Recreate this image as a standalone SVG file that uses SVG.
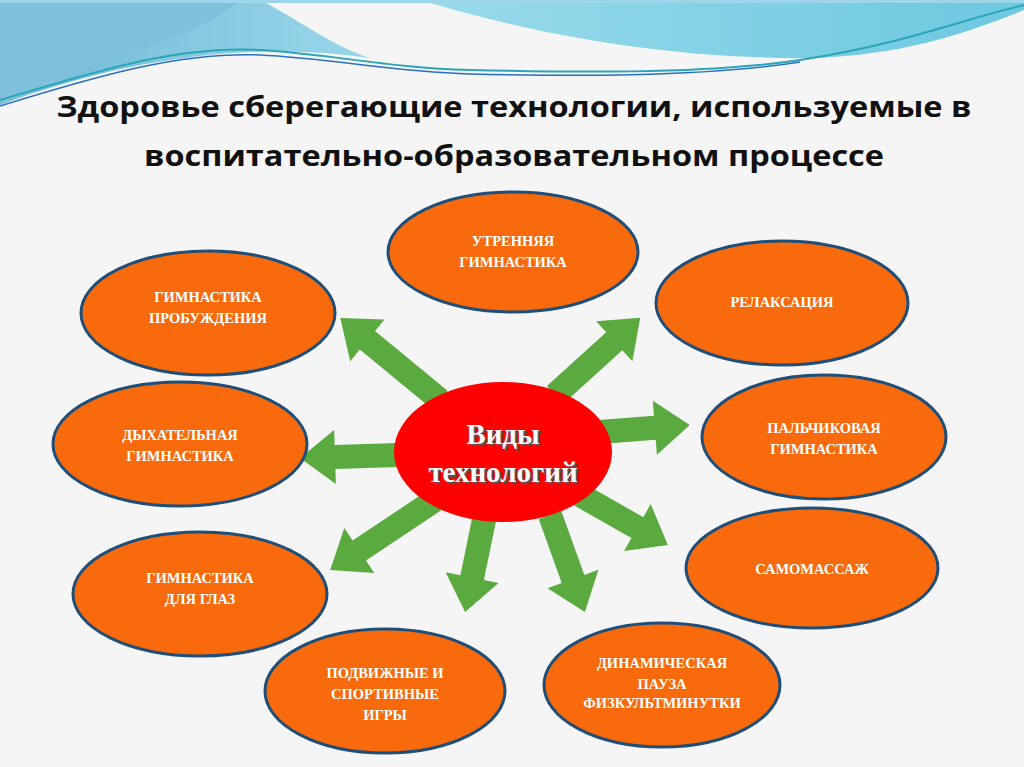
<svg xmlns="http://www.w3.org/2000/svg" width="1024" height="767" viewBox="0 0 1024 767">
<defs>
<style>
.node ellipse{fill:#f86a0c;stroke:#1f4e79;stroke-width:3}
.node text{fill:#fff;font-family:"Liberation Serif",serif;font-weight:bold;font-size:14.5px;text-anchor:middle}
.arr{fill:#5aaa3f}
.title{font-family:"Open Sans","Liberation Sans",sans-serif;font-weight:bold;font-size:29px;fill:#111;text-anchor:middle}
</style>
<linearGradient id="w1" x1="0" y1="0" x2="1" y2="0"><stop offset="0" stop-color="#6fb8d6"/><stop offset="1" stop-color="#9ad7ea"/></linearGradient>
<linearGradient id="w2" x1="0" y1="0" x2="1" y2="0"><stop offset="0" stop-color="#a8e0ee"/><stop offset="1" stop-color="#6cc8e0"/></linearGradient>
</defs>
<rect width="1024" height="767" fill="#f5f5f5"/>
<g id="waves">
<path d="M0,0 H260 C300,20 330,45 370,58 C250,40 120,60 0,105 Z" fill="url(#w1)"/>
<path d="M230,0 H1024 V10 C950,40 880,60 780,58 C640,55 520,30 420,0 Z" fill="url(#w2)"/>
<path d="M0,0 H240 C210,30 120,55 0,105 Z" fill="#7fc0dc"/>
<path d="M0,100 C100,70 180,45 260,50 C330,54 390,68 470,70 C560,72 700,75 800,60 C900,45 960,20 1024,5" fill="none" stroke="#2aa6b8" stroke-width="2"/>
<path d="M0,106 C100,75 180,52 260,55 C330,58 390,72 470,74 C560,76 700,78 800,62" fill="none" stroke="#2a70c0" stroke-width="1.5"/>
<path d="M0,0 H1024 V3 H0 Z" fill="#9dd6e8"/>
</g>
<text class="title" x="514" y="117" textLength="915" lengthAdjust="spacingAndGlyphs">Здоровье сберегающие технологии, используемые в</text>
<text class="title" x="514" y="166" textLength="740" lengthAdjust="spacingAndGlyphs">воспитательно-образовательном процессе</text>
<g id="connectors">
<polygon class="arr" transform="translate(440,400) rotate(219.4)" points="0,-12 94,-12 94,-27 129,0 94,27 94,12 0,12"/>
<polygon class="arr" transform="translate(555,395) rotate(-42.2)" points="0,-12 80,-12 80,-27 115,0 80,27 80,12 0,12"/>
<polygon class="arr" transform="translate(600,432) rotate(-4.4)" points="0,-12 55,-12 55,-27 90,0 55,27 55,12 0,12"/>
<polygon class="arr" transform="translate(398,455) rotate(178.2)" points="0,-12 63,-12 63,-27 98,0 63,27 63,12 0,12"/>
<polygon class="arr" transform="translate(435,500) rotate(146.3)" points="0,-12 91,-12 91,-27 126,0 91,27 91,12 0,12"/>
<polygon class="arr" transform="translate(485,515) rotate(101.6)" points="0,-12 64,-12 64,-27 99,0 64,27 64,12 0,12"/>
<polygon class="arr" transform="translate(550,515) rotate(70.2)" points="0,-12 68,-12 68,-27 103,0 68,27 68,12 0,12"/>
<polygon class="arr" transform="translate(580,495) rotate(29.6)" points="0,-12 66,-12 66,-27 101,0 66,27 66,12 0,12"/>
</g>
<g id="center">
<ellipse cx="503" cy="452" rx="109" ry="70" fill="#fe0000"/>
<g font-family="Liberation Serif,serif" font-weight="bold" font-size="29" text-anchor="middle">
<text x="505" y="446" fill="#555">Виды</text><text x="503" y="444" fill="#fff">Виды</text>
<text x="505" y="484" fill="#555">технологий</text><text x="503" y="482" fill="#fff">технологий</text>
</g>
</g>
<g id="n1" class="node"><ellipse cx="513" cy="252" rx="125" ry="60"/><text x="513" y="246">УТРЕННЯЯ</text><text x="513" y="267">ГИМНАСТИКА</text></g>
<g id="n2" class="node"><ellipse cx="208" cy="313" rx="127" ry="62"/><text x="208" y="302">ГИМНАСТИКА</text><text x="208" y="323">ПРОБУЖДЕНИЯ</text></g>
<g id="n3" class="node"><ellipse cx="782" cy="303" rx="126" ry="62"/><text x="782" y="307">РЕЛАКСАЦИЯ</text></g>
<g id="n4" class="node"><ellipse cx="180" cy="444" rx="127" ry="62"/><text x="180" y="440">ДЫХАТЕЛЬНАЯ</text><text x="180" y="461">ГИМНАСТИКА</text></g>
<g id="n5" class="node"><ellipse cx="824" cy="437" rx="122" ry="62"/><text x="824" y="433">ПАЛЬЧИКОВАЯ</text><text x="824" y="454">ГИМНАСТИКА</text></g>
<g id="n6" class="node"><ellipse cx="200" cy="594" rx="127" ry="62"/><text x="200" y="583">ГИМНАСТИКА</text><text x="200" y="604">ДЛЯ ГЛАЗ</text></g>
<g id="n7" class="node"><ellipse cx="812" cy="568" rx="126" ry="60"/><text x="812" y="574">САМОМАССАЖ</text></g>
<g id="n8" class="node"><ellipse cx="385" cy="691" rx="120" ry="62"/><text x="385" y="678">ПОДВИЖНЫЕ И</text><text x="385" y="699">СПОРТИВНЫЕ</text><text x="385" y="720">ИГРЫ</text></g>
<g id="n9" class="node"><ellipse cx="662" cy="685" rx="118" ry="62"/><text x="662" y="668">ДИНАМИЧЕСКАЯ</text><text x="662" y="689">ПАУЗА</text><text x="662" y="708" font-size="12">ФИЗКУЛЬТМИНУТКИ</text></g>
</svg>
